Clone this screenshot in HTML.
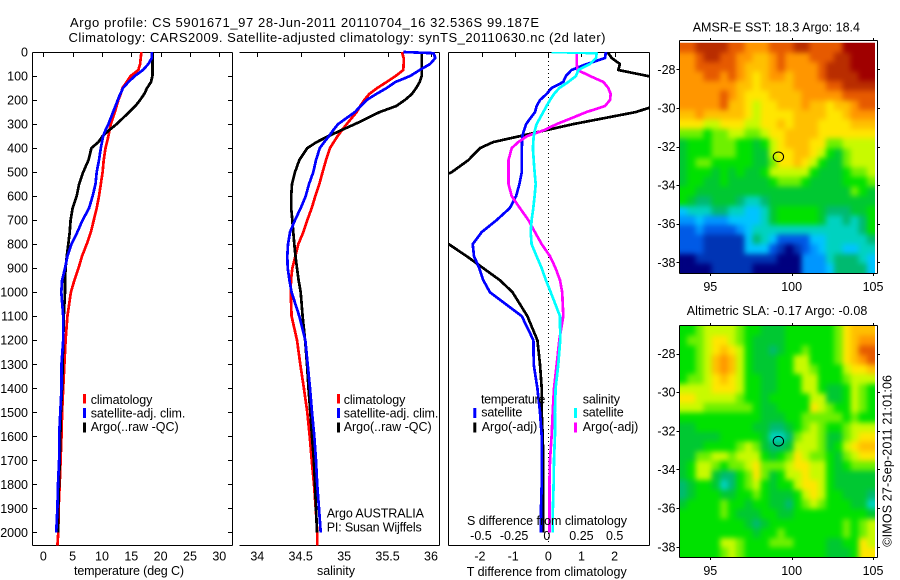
<!DOCTYPE html>
<html>
<head>
<meta charset="utf-8">
<title>Argo profile</title>
<style>
html,body{margin:0;padding:0;background:#fff;}
svg{display:block;}
text{font-family:"Liberation Sans",Arial,sans-serif;font-size:12.5px;fill:#000;}
text.title{font-size:13px;}
</style>
</head>
<body>
<svg id="fig" xmlns="http://www.w3.org/2000/svg" width="900" height="580" viewBox="0 0 900 580">
<rect x="0" y="0" width="900" height="580" fill="#fff"/>
<defs>
<clipPath id="clip3"><rect x="448.5" y="52" width="201" height="493"/></clipPath>
<clipPath id="clipSst"><rect x="679" y="42.7" width="196" height="230.3"/></clipPath>
<clipPath id="clipSla"><rect x="679" y="326" width="196" height="231.3"/></clipPath>
<filter id="soften" x="-5%" y="-5%" width="110%" height="110%" color-interpolation-filters="sRGB">
<feGaussianBlur stdDeviation="2.6"/>
<feComponentTransfer><feFuncA type="linear" slope="5" intercept="0"/></feComponentTransfer>
</filter>
</defs>
<text class="title" x="70" y="27" textLength="469" lengthAdjust="spacing">Argo profile: CS 5901671_97 28-Jun-2011 20110704_16 32.536S 99.187E</text>
<text class="title" x="68.5" y="42" textLength="537" lengthAdjust="spacing">Climatology: CARS2009. Satellite-adjusted climatology: synTS_20110630.nc (2d later)</text>

<g clip-path="url(#clipSst)"><g id="sstMap" filter="url(#soften)"></g></g>
<g clip-path="url(#clipSla)"><g id="slaMap" filter="url(#soften)"></g></g>
<g id="axes"></g>
<g id="lines"></g>

<text x="74" y="575" textLength="110" lengthAdjust="spacing">temperature (deg C)</text>
<text x="317" y="575" textLength="38" lengthAdjust="spacing">salinity</text>
<text x="467" y="525" textLength="160" lengthAdjust="spacing">S difference from climatology</text>
<text x="466.7" y="576" textLength="160" lengthAdjust="spacing">T difference from climatology</text>

<g>
<rect x="83" y="394" width="3" height="9.5" fill="#f00"/>
<rect x="83" y="408" width="3" height="10" fill="#00f"/>
<rect x="83" y="422.5" width="3" height="10" fill="#000"/>
<text x="90.7" y="404" textLength="61.7" lengthAdjust="spacing">climatology</text>
<text x="90.7" y="417.3" textLength="94.7" lengthAdjust="spacing">satellite-adj. clim.</text>
<text x="90.7" y="431" textLength="88" lengthAdjust="spacing">Argo(..raw -QC)</text>
</g>

<g>
<rect x="337" y="394" width="3" height="9.5" fill="#f00"/>
<rect x="337" y="408" width="3" height="10" fill="#00f"/>
<rect x="337" y="422.5" width="3" height="10" fill="#000"/>
<text x="343.7" y="404" textLength="61.7" lengthAdjust="spacing">climatology</text>
<text x="343.7" y="417.3" textLength="94.7" lengthAdjust="spacing">satellite-adj. clim.</text>
<text x="343.7" y="431" textLength="88" lengthAdjust="spacing">Argo(..raw -QC)</text>
<text x="326.7" y="517.7" textLength="97.3" lengthAdjust="spacing">Argo AUSTRALIA</text>
<text x="326.7" y="531.7" textLength="95" lengthAdjust="spacing">PI: Susan Wijffels</text>
</g>

<g>
<text x="481" y="403.3" textLength="64.3" lengthAdjust="spacing">temperature</text>
<rect x="473.3" y="408" width="3" height="10" fill="#00f"/>
<text x="481.3" y="416.7" textLength="41" lengthAdjust="spacing">satellite</text>
<rect x="473.3" y="422.5" width="3" height="10" fill="#000"/>
<text x="481.7" y="431" textLength="55.6" lengthAdjust="spacing">Argo(-adj)</text>
<text x="582.7" y="403.3" textLength="37.3" lengthAdjust="spacing">salinity</text>
<rect x="574" y="408" width="3" height="10" fill="#0ff"/>
<text x="582.7" y="416.7" textLength="41" lengthAdjust="spacing">satellite</text>
<rect x="574" y="422.5" width="3" height="10" fill="#f0f"/>
<text x="582.7" y="431" textLength="55.6" lengthAdjust="spacing">Argo(-adj)</text>
</g>

<text x="692.7" y="31.7" textLength="167.3" lengthAdjust="spacing">AMSR-E SST: 18.3 Argo: 18.4</text>
<text x="686.7" y="315" textLength="180.6" lengthAdjust="spacing">Altimetric SLA: -0.17 Argo: -0.08</text>
<text transform="translate(891.5,546.7) rotate(-90)" x="0" y="0" textLength="171.7" lengthAdjust="spacing">©IMOS 27-Sep-2011 21:01:06</text>
</svg>

<script>
// ---- profile data ----
const depths = [0,5,25,50,75,100,125,150,175,200,225,250,300,325,350,375,400,450,500,550,600,650,700,750,800,850,900,950,1000,1100,1200,1300,1400,1500,1600,1700,1800,1900,2000,2054];

const tempClim = [16.7,16.7,16.6,16.5,16.2,14.9,14.2,13.5,13.2,12.8,12.5,12.2,11.5,11.3,11.1,10.85,10.6,10.3,10.1,9.8,9.5,9.1,8.6,8.1,7.4,6.6,6,5.3,4.7,4.1,3.8,3.6,3.4,3.2,3.1,2.95,2.8,2.6,2.55,2.4];
const tempSat = [18.5,18.5,18.5,17.9,17,15.6,14.5,13.6,13.1,12.7,12.3,11.9,11.1,10.6,10.2,10.0,9.8,9.5,9.1,8.9,8.4,7.8,6.7,5.8,4.8,4.1,3.7,3.2,3.07,3.4,3.4,3.1,3.1,2.9,2.7,2.7,2.5,2.4,2.2,null];
const tempArgo = [18.6,18.6,18.6,18.6,18.6,18.6,18.35,17.7,17.2,16.5,15.7,14.66,12.5,11.25,10.1,9.4,8.2,7.7,6.8,6.1,5.7,5,4.66,4.5,4.26,4,3.8,3.7,3.7,3.5,3.4,3.3,3.18,3,2.9,2.8,2.67,2.55,2.5,null];

const salClim = [35.666,35.67,35.685,35.685,35.681,35.593,35.489,35.382,35.29,35.232,35.185,35.144,35.029,34.975,34.925,34.88,34.837,34.791,34.752,34.714,34.668,34.626,34.576,34.53,34.472,34.438,34.403,34.388,34.384,34.395,34.457,34.495,34.537,34.576,34.603,34.626,34.653,34.672,34.691,34.691];
const salSat = [35.681,36.03,36.05,35.99,35.87,35.76,35.59,35.49,35.37,35.26,35.19,35.125,34.93,34.875,34.825,34.77,34.72,34.676,34.645,34.595,34.557,34.5,34.434,34.376,34.353,34.345,34.35,34.37,34.395,34.484,34.553,34.58,34.607,34.63,34.656,34.676,34.69,34.71,34.73,null];
const salArgo = [35.893,35.893,35.893,35.893,35.893,35.893,35.87,35.83,35.78,35.7,35.6,35.41,35.125,34.97,34.82,34.683,34.576,34.484,34.434,34.4,34.39,34.39,34.403,34.415,34.426,34.44,34.457,34.476,34.5,34.522,34.55,34.572,34.59,34.61,34.63,34.65,34.664,34.676,34.687,null];

const diffTSat = [1.76,1.73,1.71,1.16,0.70,0.53,0.45,0.10,-0.05,-0.25,-0.35,-0.40,-0.67,-0.73,-0.78,-0.79,-0.80,-0.80,-0.80,-0.87,-0.97,-1.16,-1.56,-2.01,-2.28,-2.24,-2.08,-1.96,-1.76,-0.80,-0.45,-0.44,-0.33,-0.25,-0.2,-0.2,-0.2,-0.22,-0.22,null];
const diffTArgo = [1.76,1.81,1.91,2.16,2.11,3.0,3.8,4.2,4.2,3.7,3.2,2.65,0.75,-0.05,-0.85,-1.66,-2.06,-2.41,-2.91,-3.7,-3.8,-4.1,-3.9,-3.6,-3.0,-2.46,-1.96,-1.46,-1.08,-0.63,-0.33,-0.25,-0.2,-0.2,-0.17,-0.15,-0.15,-0.15,-0.15,null];
const diffSSat = [0.025,0.364,0.36,0.314,0.226,0.209,0.15,0.083,0.043,0.013,-0.013,-0.038,-0.088,-0.10,-0.11,-0.113,-0.116,-0.11,-0.103,-0.095,-0.103,-0.113,-0.126,-0.133,-0.126,-0.088,-0.05,-0.018,0.018,0.088,0.09,0.075,0.055,0.05,0.05,0.043,0.04,0.035,0.033,null];
const diffSArgo = [0.214,0.214,0.214,0.214,0.22,0.314,0.415,0.452,0.47,0.465,0.427,0.289,0.063,-0.03,-0.16,-0.226,-0.276,-0.30,-0.30,-0.30,-0.276,-0.214,-0.15,-0.10,-0.05,0.013,0.055,0.088,0.105,0.113,0.083,0.063,0.043,0.033,0.025,0.013,0.008,0.008,0.008,null];

// ---- tick labels ----
const depthTicks = [0,100,200,300,400,500,600,700,800,900,1000,1100,1200,1300,1400,1500,1600,1700,1800,1900,2000];
const tempTicks = [0,5,10,15,20,25,30];
const salTicks = [34,34.5,35,35.5,36];
const diffTTicks = [-2,-1,0,1,2];
const diffSTicks = [-0.5,-0.25,0,0.25,0.5];
const lonTicks = [95,100,105];
const latTicks = [-28,-30,-32,-34,-36,-38];

// ---- argo float position ----
const floatLon = 99.187;
const floatLat = -32.536;

// ---- satellite map levels (colour-scale index, rows north to south) ----
const sstLevels = [
[14,14,15,15,15,15,14,14,13,13,13,14,14,14,15,15,14,14,14,14,16,16,16,16],
[13,13,14,15,15,14,14,13,13,12,12,13,14,13,13,13,14,14,14,15,15,16,16,16],
[13,13,14,14,14,14,14,13,12,12,12,13,14,13,13,13,13,14,15,15,15,16,16,16],
[13,13,13,14,14,13,14,13,12,11,12,13,13,12,13,13,13,14,15,15,15,15,16,16],
[13,13,13,13,13,13,13,12,12,11,12,12,12,12,13,13,13,13,14,14,15,15,15,15],
[13,13,13,13,13,14,13,12,11,11,11,12,12,12,12,13,13,13,13,13,14,14,14,14],
[13,13,13,13,13,14,12,12,11,10,11,11,12,12,12,13,12,12,11,12,12,13,14,14],
[12,12,13,12,12,12,12,12,11,10,11,11,11,11,12,12,12,12,11,11,12,13,13,13],
[11,11,11,10,10,11,11,11,10,10,11,11,12,11,12,12,12,11,11,11,11,12,12,12],
[9,9,9,8,9,9,10,10,9,9,10,11,11,12,12,12,12,11,11,11,11,11,11,11],
[7,8,8,8,9,9,9,8,8,7,8,10,11,12,12,12,11,11,9,9,10,10,10,10],
[7,8,8,8,9,9,9,8,8,7,7,10,11,11,12,12,11,10,8,7,9,10,10,10],
[7,8,9,9,8,8,8,8,8,7,7,9,11,11,12,11,10,8,7,7,9,10,10,10],
[7,8,8,8,7,8,7,8,7,7,8,10,10,10,10,10,8,7,7,7,8,9,9,10],
[7,8,8,7,7,8,7,7,7,7,7,8,9,9,9,8,7,7,7,7,8,8,8,9],
[8,8,7,7,7,7,7,7,7,7,7,7,7,7,7,7,7,7,7,7,7,9,8,7],
[8,7,6,6,7,7,7,6,5,5,6,7,7,7,7,7,7,7,7,7,7,7,7,7],
[4,5,5,5,6,6,5,5,4,4,5,7,8,8,8,8,8,7,6,6,6,7,7,8],
[3,3,4,3,3,3,4,4,4,4,5,7,8,8,8,8,8,7,5,5,6,5,6,8],
[2,2,3,2,2,2,2,3,4,5,5,5,5,5,5,5,5,5,5,5,5,5,6,8],
[2,2,2,1,1,1,1,1,4,6,5,4,2,2,2,2,4,4,5,5,5,5,5,6],
[2,2,2,1,1,1,1,1,4,4,4,2,1,0,1,2,3,4,5,5,4,4,5,5],
[0,0,1,1,1,1,1,1,1,1,1,1,0,0,0,3,3,3,5,6,6,6,5,4],
[0,0,0,0,1,1,1,1,1,0,0,0,0,0,0,3,3,3,4,6,6,6,6,4]
];
const slaLevels = [
[8,8,9,10,10,10,10,9,8,8,7,7,7,8,8,8,8,8,8,9,11,12,12,12],
[8,9,9,10,11,11,10,9,8,7,7,7,7,8,8,8,8,8,8,9,11,12,13,13],
[8,8,9,10,11,12,11,10,8,7,7,6,7,8,8,9,8,8,8,9,11,12,14,14],
[8,8,9,10,12,13,12,10,8,7,7,7,8,8,10,10,8,8,8,9,11,12,13,14],
[8,8,9,10,12,13,12,10,8,7,7,7,8,8,10,10,9,8,8,8,10,11,11,12],
[8,9,9,10,11,12,11,10,8,8,7,7,8,8,8,10,10,8,8,8,9,10,10,10],
[10,10,10,10,11,11,11,10,8,8,7,7,8,8,8,10,10,8,7,7,8,10,9,8],
[11,11,10,10,10,10,10,9,8,8,7,8,8,8,8,8,10,10,7,7,8,10,9,8],
[10,10,10,9,9,9,9,9,9,8,7,7,8,8,8,8,11,10,9,8,8,10,9,8],
[8,8,8,8,8,8,8,8,8,8,7,7,7,8,8,9,9,9,9,9,8,9,8,8],
[7,7,8,8,8,8,8,8,8,7,7,6,6,7,8,9,10,9,8,8,9,10,10,10],
[7,7,7,7,7,8,8,8,8,8,7,5,5,6,9,10,10,9,7,7,9,10,11,11],
[7,7,7,8,8,8,8,9,10,9,7,6,6,7,10,10,10,9,7,8,10,11,12,12],
[7,7,9,9,10,10,9,10,10,10,8,7,8,9,11,10,9,9,8,7,9,10,11,11],
[7,8,10,10,9,8,9,9,10,11,9,9,9,10,11,11,10,10,8,7,8,9,9,9],
[7,8,10,10,7,6,6,8,9,11,9,7,8,10,10,11,10,10,8,7,7,7,7,7],
[6,7,8,8,7,5,6,8,9,10,8,7,8,8,10,11,11,10,8,7,7,7,7,7],
[6,7,8,8,8,7,7,8,8,9,8,7,7,7,8,10,11,10,8,8,7,7,7,6],
[7,8,8,8,8,9,8,8,7,8,8,7,7,6,8,9,10,9,8,8,8,7,7,5],
[8,8,8,8,8,9,8,7,7,7,8,8,7,7,8,8,8,8,8,8,8,8,8,7],
[8,8,8,8,8,8,8,8,7,6,7,8,8,8,8,8,8,8,8,8,9,8,9,10],
[8,8,8,8,8,8,8,8,8,7,8,8,9,8,8,8,8,8,8,8,9,8,9,10],
[8,8,8,8,8,10,10,9,8,8,8,9,9,9,8,8,8,8,7,7,8,8,11,10],
[8,8,8,8,8,9,10,9,8,8,8,8,8,8,8,8,8,8,7,7,7,8,11,11]
];
const mapPalette = ["#00007f","#0034b4","#005ae6","#0096ff","#00c4ff","#00d2c0","#00ba70","#00c832","#00e100","#6ef000","#c8fa00","#ffe600","#ffc000","#ff9600","#e65a00","#b92d00","#a00000"];

// ---- axis functions ----
const yDepth = d => 52 + 0.2402 * d;
const xTemp = v => 43.3 + 5.867 * v;
const xSal = v => 257.3 + 86.85 * (v - 34);
const xDiffT = v => 548.3 + 33.17 * v;
const xDiffS = v => 548.3 + 132.7 * v;
const lonX = lon => 710.3 + 16.27 * (lon - 95);
const latY1 = lat => 69.3 + 19.3 * (-28 - lat);
const latY2 = lat => 353.5 + 19.33 * (-28 - lat);

const NS = "http://www.w3.org/2000/svg";
function mk(parent, tag, attrs) {
  const el = document.createElementNS(NS, tag);
  for (const k in attrs) el.setAttribute(k, attrs[k]);
  parent.appendChild(el);
  return el;
}
const axes = document.getElementById("axes");
const lines = document.getElementById("lines");

function rule(x1, y1, x2, y2, name) {
  const el = mk(axes, "line", {x1, y1, x2, y2, stroke: "#000", "stroke-width": 1, "shape-rendering": "crispEdges"});
  
  
}
function label(txt, x, y, anchor, name) {
  const el = mk(axes, "text", {x, y, "text-anchor": anchor});
  el.textContent = txt;
  
  
}

// panel frames
rule(32.5, 52.5, 232.5, 52.5, "temperature-top-axis");
rule(32.5, 545.5, 232.5, 545.5, "temperature-bottom-axis");
rule(32.5, 52.5, 32.5, 545.5, "temperature-left-axis");
rule(232.5, 52.5, 232.5, 545.5, "temperature-right-axis");
rule(239.5, 52.5, 439.5, 52.5, "salinity-top-axis");
rule(239.5, 545.5, 439.5, 545.5, "salinity-bottom-axis");
rule(439.5, 52.5, 439.5, 545.5, "salinity-right-axis");
rule(448.5, 52.5, 649.5, 52.5, "difference-top-axis");
rule(448.5, 545.5, 649.5, 545.5, "difference-bottom-axis");
rule(448.5, 52.5, 448.5, 545.5, "difference-left-axis");
rule(649.5, 52.5, 649.5, 545.5, "difference-right-axis");

// depth ticks
depthTicks.forEach(d => {
  const y = Math.round(yDepth(d)) + 0.5;
  rule(32.5, y, 37, y, "depth-tick-left");
  rule(228, y, 232.5, y, "depth-tick-right");
  label(String(d), 28, yDepth(d) + 4.5, "end", "depth-tick-label");
});
// temperature ticks
tempTicks.forEach(v => {
  const x = Math.round(xTemp(v)) + 0.5;
  rule(x, 52.5, x, 57, "temperature-tick");
  label(String(v), xTemp(v), 560.7, "middle", "temperature-tick-label");
});
// salinity ticks
salTicks.forEach(v => {
  const x = Math.round(xSal(v)) + 0.5;
  rule(x, 52.5, x, 57, "salinity-tick");
  label(String(v), xSal(v), 560.7, "middle", "salinity-tick-label");
});
// difference ticks
diffTTicks.forEach(v => {
  const x = Math.round(xDiffT(v)) + 0.5;
  rule(x, 52.5, x, 57, "t-difference-tick");
  label(String(v), xDiffT(v) - (v < 0 ? 2 : 0), 560.7, "middle", "t-difference-tick-label");
});
diffSTicks.forEach(v => {
  label(String(v), xDiffS(v) - (v < 0 ? 1 : (v === 0 ? 1.5 : 0)), 540, "middle", "s-difference-tick-label");
});
// zero reference
const zeroLine = mk(axes, "line", {x1: 548.5, y1: 53, x2: 548.5, y2: 545, stroke: "#000", "stroke-width": 1, "stroke-dasharray": "1 3", "shape-rendering": "crispEdges"});



// profile series
function series(xf, values, color, name, clipped) {
  const pts = [];
  values.forEach((v, i) => {
    if (v !== null) pts.push(xf(v).toFixed(1) + "," + yDepth(depths[i]).toFixed(1));
  });
  const el = mk(lines, "polyline", {points: pts.join(" "), fill: "none", stroke: color, "stroke-width": 2.7, "stroke-linejoin": "round", "shape-rendering": "crispEdges"});
  if (clipped) el.setAttribute("clip-path", "url(#clip3)");
  
  
}
series(xTemp, tempClim, "#f00", "temperature-climatology-line");
series(xTemp, tempArgo, "#000", "temperature-argo-line");
series(xTemp, tempSat, "#00f", "temperature-satellite-line");
series(xSal, salClim, "#f00", "salinity-climatology-line");
series(xSal, salArgo, "#000", "salinity-argo-line");
series(xSal, salSat, "#00f", "salinity-satellite-line");
series(xDiffT, diffTArgo, "#000", "t-difference-argo-line", true);
series(xDiffT, diffTSat, "#00f", "t-difference-satellite-line", true);
series(xDiffS, diffSArgo, "#f0f", "s-difference-argo-line", true);
series(xDiffS, diffSSat, "#0ff", "s-difference-satellite-line", true);

// maps
function heatmap(target, levels, x0, y0, w, h, name) {
  const rows = levels.length, cols = levels[0].length;
  const cw = w / cols, ch = h / rows;
  levels.forEach((row, r) => {
    row.forEach((lv, c) => {
      const cell = mk(target, "rect", {x: (x0 + c * cw).toFixed(2), y: (y0 + r * ch).toFixed(2), width: (cw + 0.3).toFixed(2), height: (ch + 0.3).toFixed(2), fill: mapPalette[lv], "shape-rendering": "crispEdges"});
      
      
    });
  });
}
heatmap(document.getElementById("sstMap"), sstLevels, 679, 42.7, 196, 230.3, "sst-cell");
heatmap(document.getElementById("slaMap"), slaLevels, 679, 326, 196, 231.3, "sla-cell");

function mapFrame(top, bottom, yf, prefix) {
  rule(679.5, top, 877.5, top, prefix + "-top-axis");
  rule(679.5, bottom, 877.5, bottom, prefix + "-bottom-axis");
  rule(679.5, top, 679.5, bottom, prefix + "-left-axis");
  rule(877.5, top, 877.5, bottom, prefix + "-right-axis");
  lonTicks.forEach(lon => {
    const x = Math.round(lonX(lon)) + 0.5;
    rule(x, top - 2.5, x, top, prefix + "-lon-tick-top");
    rule(x, bottom, x, bottom + 2.5, prefix + "-lon-tick-bottom");
    label(String(lon), lonX(lon), bottom + 17.5, "middle", prefix + "-lon-label");
  });
  latTicks.forEach(lat => {
    const y = Math.round(yf(lat)) + 0.5;
    rule(676.5, y, 679.5, y, prefix + "-lat-tick-left");
    rule(877.5, y, 880, y, prefix + "-lat-tick-right");
    label(String(lat), 675.5, yf(lat) + 4.5, "end", prefix + "-lat-label");
  });
  const marker = mk(axes, "ellipse", {cx: lonX(floatLon).toFixed(1), cy: yf(floatLat).toFixed(1), rx: 5.2, ry: 4.8, fill: "none", stroke: "#000", "stroke-width": 1});
  
  
}
mapFrame(40.5, 273.5, latY1, "sst-map");
mapFrame(325.5, 557.5, latY2, "sla-map");
</script>
</body>
</html>
